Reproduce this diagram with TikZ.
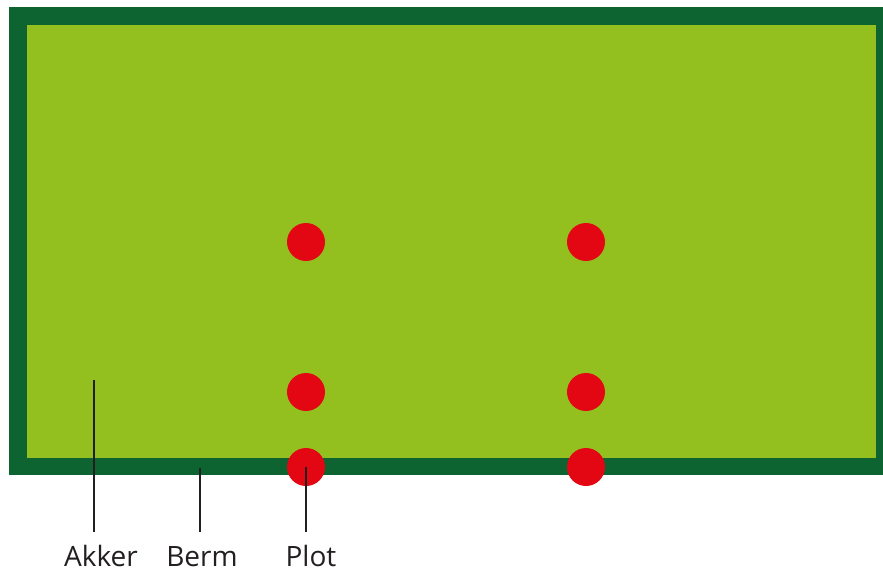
\documentclass[tikz,border=0pt]{standalone}
\usepackage{fontspec}
\setmainfont{Open Sans}
\usepackage{tikz}
\usetikzlibrary{positioning}
\definecolor{bermgreen}{HTML}{0E6430}
\definecolor{akkergreen}{HTML}{93C01F}
\definecolor{plotred}{HTML}{E30613}
\definecolor{labelgray}{HTML}{231F20}
\tikzset{
  plotdot/.style={circle, fill=plotred, inner sep=0pt, minimum size=38pt},
  label/.style={anchor=base, font=\fontsize{28pt}{32pt}\selectfont, text=labelgray, inner sep=0pt},
  pointer/.style={draw=labelgray, line width=2.6pt}
}
\begin{document}
\begin{tikzpicture}[x=1pt, y=-1pt]
  \useasboundingbox (0,0) rectangle (883,571);
  % field with berm
  \fill[bermgreen] (9,7) rectangle (883,475);
  \fill[akkergreen] (27,25) rectangle (876,458);

  % plots
  \node[plotdot] (p11) at (306,242) {};
  \node[plotdot] (p12) at (306,392) {};
  \node[plotdot] (p13) at (306,467) {};
  \node[plotdot] (p21) at (586,242) {};
  \node[plotdot] (p22) at (586,392) {};
  \node[plotdot] (p23) at (586,467) {};

  % labels
  \node[label] (akker) at (101,566) {Akker};
  \node[label] (berm) at (202,566) {Berm};
  \node[label] (plot) at (311,566) {Plot};

  \coordinate (akkerTop) at (94,380);
  \coordinate (akkerBot) at (94,532);
  \coordinate (bermTop) at (200,468);
  \coordinate (bermBot) at (200,532);
  \coordinate (plotBot) at (306,532);

  \draw[pointer] (akkerBot) -- (akkerTop);
  \draw[pointer] (bermBot) -- (bermTop);
  \draw[pointer] (plotBot) -- (p13.center);
\end{tikzpicture}
\end{document}
